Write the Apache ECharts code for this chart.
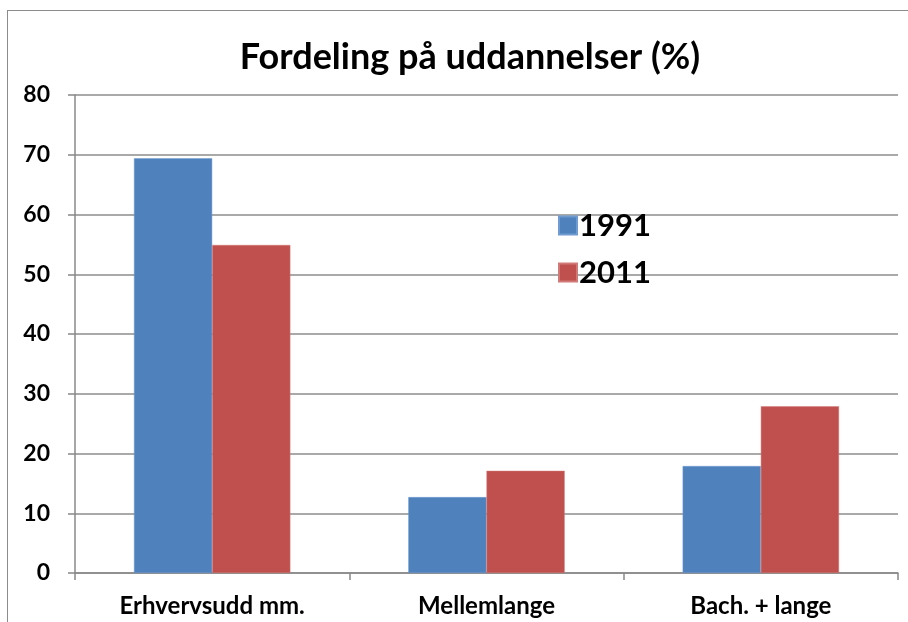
<!DOCTYPE html>
<html><head><meta charset="utf-8">
<script src="https://cdn.jsdelivr.net/npm/echarts@6/dist/echarts.min.js"></script>
<style>html,body{margin:0;padding:0;background:#fff}#c{width:908px;height:622px;position:relative}
#frame{position:absolute;left:7px;top:10px;width:920px;height:640px;border:1.5px solid #8c8c8c;box-sizing:border-box;pointer-events:none}</style>
</head><body><div id="c"></div><div id="frame"></div>
<script>
const categories = ['Erhvervsudd mm.', 'Mellemlange', 'Bach. + lange'];
const seriesNames = ['1991', '2011'];
const values1991 = [69.4, 12.7, 17.9];
const values2011 = [54.9, 17.1, 27.9];
const yTicks = [0, 10, 20, 30, 40, 50, 60, 70, 80];

const chart = echarts.init(document.getElementById('c'), null, {renderer: 'canvas'});
const font = 'Lato, "Open Sans", sans-serif';
chart.setOption({
  animation: false,
  backgroundColor: '#fff',
  title: {
    text: 'Fordeling på uddannelser (%)', left: 465, top: 34, textAlign: 'center',
    textStyle: {fontFamily: font, fontWeight: 'bold', fontSize: 36, color: '#000'}
  },
  legend: {
    orient: 'vertical', left: 553, top: 205, itemGap: 16, itemWidth: 18, itemHeight: 18,
    icon: 'rect', data: seriesNames,
    textStyle: {fontFamily: font, fontWeight: 'bold', fontSize: 31, color: '#000', padding: [0,0,0,-3]}
  },
  grid: {left: 75, right: 10, top: 95, bottom: 49, containLabel: false},
  xAxis: {
    type: 'category', data: categories,
    axisLine: {lineStyle: {color: '#888', width: 1.5}},
    axisTick: {show: true, length: 7, lineStyle: {color: '#888', width: 1.5}},
    axisLabel: {fontFamily: font, fontWeight: 'bold', fontSize: 24, color: '#000', margin: 21}
  },
  yAxis: {
    type: 'value', min: yTicks[0], max: yTicks[yTicks.length-1], interval: 10,
    axisLine: {show: true, lineStyle: {color: '#888', width: 1.5}},
    axisTick: {show: true, length: 7, lineStyle: {color: '#888', width: 1.5}},
    splitLine: {lineStyle: {color: '#8c8c8c', width: 1.5}},
    axisLabel: {fontFamily: font, fontWeight: 'bold', fontSize: 23, color: '#000', margin: 25}
  },
  series: [
    {name: seriesNames[0], type: 'bar', data: values1991, barGap: '0%', barCategoryGap: '43%',
     itemStyle: {color: '#4F81BD', borderColor: '#6f9bd0', borderWidth: 0.5}},
    {name: seriesNames[1], type: 'bar', data: values2011, barGap: '0%', barCategoryGap: '43%',
     itemStyle: {color: '#C0504D', borderColor: '#d07a78', borderWidth: 0.5}}
  ]
});
</script></body></html>
